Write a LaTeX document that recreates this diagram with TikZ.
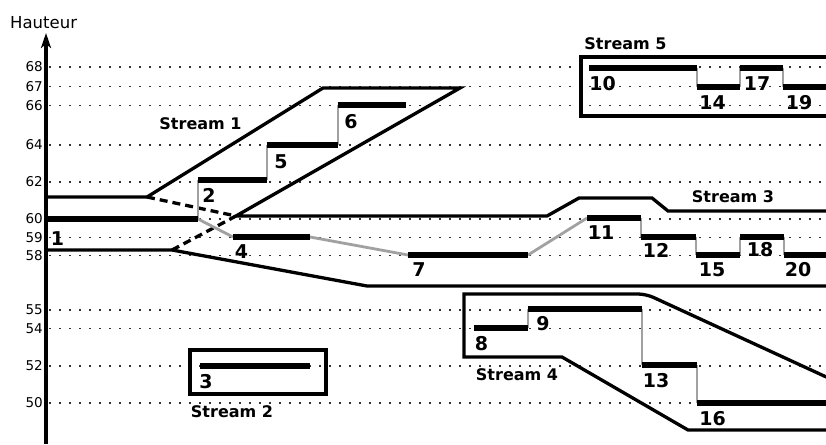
\documentclass[tikz,border=0pt]{standalone}
\usepackage{fontspec}
\setmainfont{DejaVu Sans}
\usetikzlibrary{arrows.meta}
\begin{document}
\begin{tikzpicture}[x=1pt,y=-1pt,
  outline/.style={line width=3.3pt},
  dashline/.style={line width=3.3pt, dash pattern=on 8pt off 5pt},
  barline/.style={line width=6.5pt},
  link/.style={line width=2.8pt, draw=black!37},
  gridline/.style={line width=1.5pt, dash pattern=on 1.5pt off 8.5pt, draw=black!80},
  num/.style={font=\fontsize{19}{19}\selectfont\bfseries, inner sep=0pt, anchor=base},
  streamlbl/.style={font=\fontsize{16}{16}\selectfont\bfseries, inner sep=0pt, anchor=base},
  ticklbl/.style={font=\fontsize{13.5}{13.5}\selectfont, inner sep=0pt, anchor=east}]
\useasboundingbox (0,0) rectangle (826,444);
\clip (0,0) rectangle (826,444);

% grid lines and tick labels
\foreach \lv/\yy in {68/67,67/86.5,66/105.5,64/145,62/182,60/219,59/237.5,58/255.3,55/310,54/328.5,52/366,50/403}{
  \draw[gridline] (49,\yy) -- (826,\yy);
  \node[ticklbl] (t\lv) at (43,\yy) {\lv};
}

% axis
\coordinate (axb) at (46,444);
\coordinate (axt) at (46,33);
\draw[line width=3.3pt,-{Stealth[length=15pt,width=10pt,inset=4pt]}] (axb) -- (axt);
\node[anchor=base west, inner sep=0pt, font=\fontsize{16.5}{16.5}\selectfont] (haut) at (10,28.3) {Hauteur};

% stream outlines
\draw[outline] (46,250) -- (46,197) -- (147,197) -- (323,88) -- (460,88) -- (236,216) -- (547,216) -- (579,198) -- (652,198) -- (668,211) -- (835,211);
\draw[outline] (46,250) -- (172,250) -- (367,286) -- (835,286);
\draw[dashline] (147,197) -- (236,216);
\draw[dashline] (172,250) -- (236,216);
\draw[outline] (581,57) rectangle (835,116);
\draw[outline] (190,350) rectangle (326,394);
\draw[outline] (555,294) [rounded corners=8pt] -- (646,294) -- (835,381);
\draw[outline] (555,294) -- (464,294) -- (464,357) -- (562,357) -- (688,430) -- (835,430);

% bar coordinates
\foreach \n/\xa/\xb/\yy in {1/47/198/219, 2/198/267/180, 4/233/310/237, 5/267/338/145, 6/338/406/105,
  7/408/528/255, 3/200/310/366, 8/474/528/328, 9/528/642/309, 13/642/697/365, 16/697/835/403,
  10/589/697/68, 14/697/740/87, 17/740/783/68, 19/783/835/87,
  11/587/641/218, 12/641/696/237, 15/696/740/255, 18/740/784/237, 20/784/835/255}{
  \coordinate (b\n s) at (\xa,\yy);
  \coordinate (b\n e) at (\xb,\yy);
}

% grey links
\foreach \a/\b in {1/2,1/4,2/5,5/6,4/7,7/11,11/12,12/15,15/18,18/20,8/9,9/13,13/16,10/14,14/17,17/19}
  \draw[link] (b\a e) -- (b\b s);

% bars
\foreach \n in {1,2,3,4,5,6,7,8,9,10,11,12,13,14,15,16,17,18,19,20}
  \draw[barline] (b\n s) -- (b\n e);

% bar labels
\foreach \n/\lx/\ly in {1/57.5/245, 2/209/202, 4/241.5/258, 5/281/168, 6/351/128, 7/419/276,
  3/206/388, 8/481.5/350.7, 9/543/330.7, 13/656/387, 16/712.5/425,
  10/602.5/90, 14/712.5/109, 17/757/90, 19/799/109,
  11/601/239, 12/656/257.7, 15/712/276.7, 18/760/256, 20/798/276.7}
  \node[num] (l\n) at (\lx,\ly) {\n};

% stream labels
\node[streamlbl] (st1) at (200.5,129) {Stream 1};
\node[streamlbl] (st2) at (232,417.3) {Stream 2};
\node[streamlbl] (st3) at (733,202) {Stream 3};
\node[streamlbl] (st4) at (517,380) {Stream 4};
\node[streamlbl] (st5) at (625.5,49.3) {Stream 5};
\end{tikzpicture}
\end{document}
